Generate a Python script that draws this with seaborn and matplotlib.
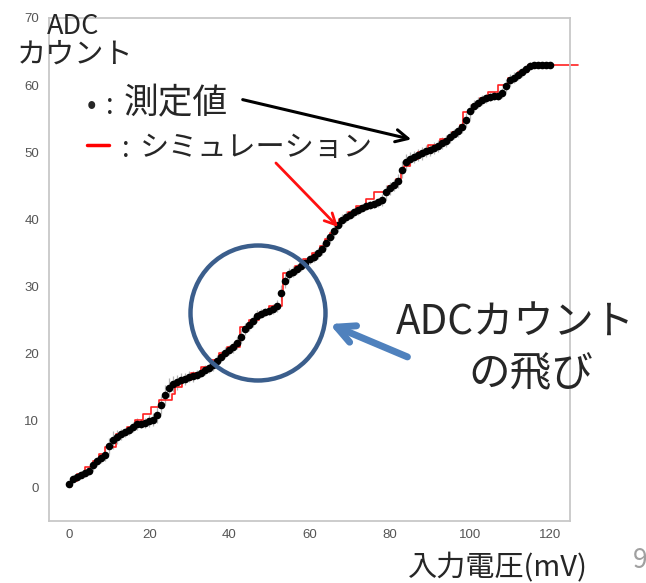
import numpy as np
import pandas as pd
import matplotlib
matplotlib.use("Agg")
import matplotlib.pyplot as plt
from matplotlib.patches import Ellipse, FancyArrowPatch
from matplotlib.lines import Line2D
from matplotlib.ticker import MultipleLocator
import seaborn as sns

# ---- measured ADC count vs input voltage (1 mV steps) ----
input_mv = np.arange(0, 121, 1)
adc_measured = [
    0.5, 1.2, 1.6, 1.9, 2.1, 2.5, 3.3, 3.9, 4.4, 4.9,
    6.2, 7.1, 7.5, 7.9, 8.2, 8.5, 9.0, 9.4, 9.5, 9.6,
    9.9, 10.1, 10.8, 12.3, 13.8, 14.9, 15.4, 15.7, 16.0, 16.2,
    16.5, 16.6, 16.8, 17.1, 17.5, 17.8, 18.3, 18.9, 19.5, 20.1,
    20.5, 20.9, 21.5, 22.5, 23.6, 24.2, 24.8, 25.6, 25.9, 26.1,
    26.3, 26.6, 27.0, 29.0, 30.8, 31.8, 32.2, 32.6, 33.0, 33.5,
    34.0, 34.4, 34.9, 35.6, 36.4, 37.3, 38.2, 39.1, 39.9, 40.4,
    40.7, 41.0, 41.3, 41.6, 41.9, 42.1, 42.3, 42.5, 42.9, 44.0,
    44.6, 45.1, 45.7, 47.4, 48.5, 49.0, 49.3, 49.6, 49.8, 50.1,
    50.3, 50.6, 50.9, 51.3, 51.7, 52.2, 52.7, 53.1, 53.8, 54.8,
    56.1, 56.9, 57.4, 57.8, 58.0, 58.2, 58.3, 58.4, 58.8, 59.9,
    60.7, 61.1, 61.5, 61.9, 62.4, 62.9, 63.0, 63.0, 63.0, 63.0, 63.0,
]
adc_error = [
    0.5, 0.6, 0.6, 0.5, 0.6, 0.7, 0.8, 0.7, 0.8, 0.9,
    1.2, 1.3, 1.0, 0.8, 0.7, 0.7, 0.8, 0.9, 0.7, 0.8,
    0.9, 1.0, 1.2, 1.4, 1.5, 1.4, 1.2, 1.1, 1.0, 0.9,
    0.8, 0.8, 0.7, 0.7, 0.8, 0.8, 0.9, 0.9, 0.8, 0.8,
    0.7, 0.8, 0.9, 1.0, 0.9, 0.8, 0.8, 0.9, 0.7, 0.6,
    0.6, 0.7, 0.9, 1.2, 1.1, 0.9, 0.8, 0.7, 0.7, 0.7,
    0.7, 0.8, 0.8, 0.9, 0.9, 0.9, 1.0, 1.0, 0.9, 0.8,
    0.7, 0.7, 0.7, 0.6, 0.6, 0.6, 0.6, 0.7, 0.9, 1.1,
    1.0, 0.9, 1.1, 1.3, 1.2, 1.0, 0.9, 0.9, 0.9, 0.9,
    0.9, 0.9, 0.9, 0.9, 0.9, 0.9, 0.8, 0.8, 0.9, 1.1,
    1.1, 0.9, 0.8, 0.7, 0.6, 0.6, 0.6, 0.6, 0.8, 1.0,
    0.9, 0.8, 0.7, 0.7, 0.6, 0.5, 0.3, 0.2, 0.2, 0.2, 0.2,
]

# ---- simulated transfer curve: voltage at which each code 1..63 begins ----
sim_code_edges = [
    0.5, 2.0, 4.0, 6.0, 7.5, 9.0, 11.6, 11.8, 14.5, 16.5,
    18.5, 20.5, 22.5, 25.8, 26.5, 28.3, 30.5, 33.0, 35.5, 37.5,
    39.5, 42.7, 42.7, 42.7, 45.0, 47.5, 50.0, 53.2, 53.2, 53.3,
    53.3, 53.4, 56.5, 58.5, 60.5, 62.5, 63.8, 65.0, 66.5, 67.3,
    69.5, 71.5, 74.0, 76.0, 79.5, 81.5, 82.8, 83.5, 85.0, 87.0,
    89.5, 92.5, 95.5, 97.5, 98.4, 98.4, 100.5, 102.5, 104.5, 107.0,
    109.5, 112.0, 114.5,
]
sim_start_mv = 0.0
sim_end_mv = 127.0

sim_x = [sim_start_mv] + sim_code_edges + [sim_end_mv]
sim_y = list(range(0, len(sim_code_edges) + 1)) + [len(sim_code_edges)]

meas_df = pd.DataFrame({"mv": input_mv, "adc": adc_measured, "err": adc_error})
sim_df = pd.DataFrame({"mv": sim_x, "adc": sim_y})

W, H = 646, 583
sns.set_style("white")
plt.rcParams["font.family"] = ["Noto Sans CJK JP", "DejaVu Sans"]

fig = plt.figure(figsize=(W / 100, H / 100), dpi=100)
ax = fig.add_axes([49 / W, 1 - 521 / H, (570 - 49) / W, (521 - 18) / H])


def fpos(x, y):
    """pixel position (from top-left) -> figure fraction"""
    return x / W, 1 - y / H


# error bars, simulation steps, measured points
ax.errorbar(meas_df["mv"], meas_df["adc"], yerr=meas_df["err"], fmt="none",
            ecolor="#b4b4b4", elinewidth=0.9, capsize=0, zorder=1)
sns.lineplot(data=sim_df, x="mv", y="adc", estimator=None, drawstyle="steps-post",
             color="#ff2020", linewidth=1.2, ax=ax, zorder=2)
for ln in ax.lines:
    ln.set_clip_on(False)
sns.scatterplot(data=meas_df, x="mv", y="adc", color="black", s=30,
                linewidth=0, ax=ax, zorder=3)

ax.set_xlim(-5, 125)
ax.set_ylim(-5, 70)
ax.xaxis.set_major_locator(MultipleLocator(20))
ax.xaxis.set_minor_locator(MultipleLocator(5))
ax.yaxis.set_major_locator(MultipleLocator(10))
ax.yaxis.set_minor_locator(MultipleLocator(2))
ax.tick_params(which="both", direction="in", color="#b8b8b8",
               labelcolor="#555555", labelsize=9.5)
ax.tick_params(which="major", length=6, width=1)
ax.tick_params(which="minor", length=3, width=1)
ax.tick_params(axis="y", pad=7)
ax.tick_params(axis="x", pad=6)
for lab in ax.get_xticklabels() + ax.get_yticklabels():
    lab.set_family(["Liberation Sans", "DejaVu Sans"])
ax.set_xlabel("")
ax.set_ylabel("")
for sp in ax.spines.values():
    sp.set_color("#c8c8c8")
    sp.set_linewidth(1.3)

# axis titles
fig.text(*fpos(47, 27), "ADC", fontsize=19.5, ha="left", va="center")
fig.text(*fpos(17, 55), "カウント", fontsize=21, ha="left", va="center")
fig.text(*fpos(588, 568), "入力電圧(mV)", fontsize=21, ha="right", va="center")
fig.text(*fpos(633, 560), "9", fontsize=19, ha="left", va="center", color="#a0a0a0")

# legend-style labels
fig.text(*fpos(87, 106), "•", fontsize=20, ha="left", va="center")
fig.text(*fpos(106, 106), ":", fontsize=20, ha="left", va="center")
fig.text(*fpos(124, 104), "測定値", fontsize=25, ha="left", va="center")
fig.add_artist(Line2D([87 / W, 109 / W], [1 - 145 / H, 1 - 145 / H],
                      color="red", linewidth=2.5, transform=fig.transFigure))
fig.text(*fpos(122, 149), ":", fontsize=20, ha="left", va="center")
fig.text(*fpos(140, 148), "シミュレーション", fontsize=21, ha="left", va="center")

# pointer arrows
fig.add_artist(FancyArrowPatch(fpos(240, 99), fpos(414, 140), transform=fig.transFigure,
                               arrowstyle="->", mutation_scale=22, linewidth=2.2,
                               color="black"))
fig.add_artist(FancyArrowPatch(fpos(274, 161), fpos(340, 229), transform=fig.transFigure,
                               arrowstyle="->", mutation_scale=20, linewidth=2.0,
                               color="#ff1010"))

# highlight of the code jump
fig.add_artist(Ellipse((258 / 100, (H - 313) / 100), width=1.35, height=1.35,
                       transform=fig.dpi_scale_trans, fill=False,
                       edgecolor="#3b5e8c", linewidth=3.2))
fig.add_artist(FancyArrowPatch(fpos(410, 358), fpos(327, 323), transform=fig.transFigure,
                               arrowstyle="->", mutation_scale=32, linewidth=5,
                               color="#4f81bd", capstyle="round", joinstyle="round"))
fig.text(*fpos(515, 322), "ADCカウント", fontsize=29, ha="center", va="center")
fig.text(*fpos(531, 375), "の飛び", fontsize=30, ha="center", va="center")

fig.savefig("out.png", dpi=100)
